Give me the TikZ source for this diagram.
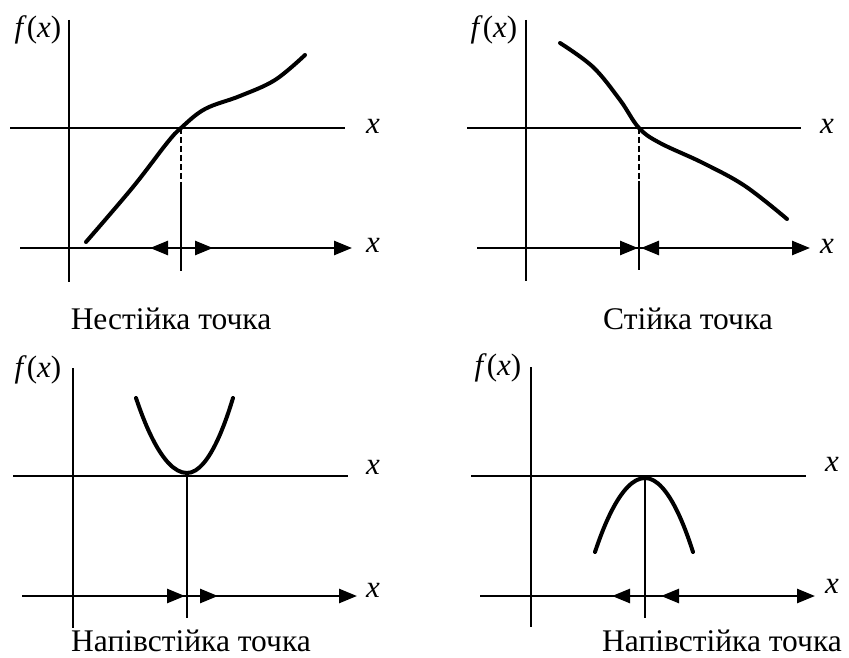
\documentclass[tikz,border=0pt]{standalone}
\usepackage{fontspec}
\setmainfont{Liberation Serif}
\usetikzlibrary{arrows.meta}

\begin{document}
\begin{tikzpicture}[x=1pt,y=-1pt,
 axis/.style={line width=2.6pt},
 curve/.style={line width=4pt,line cap=round},
 guide/.style={line width=1.3pt},
 arr/.style={-{Triangle[length=18pt,width=14pt]},line width=2.6pt},
 var/.style={font=\fontsize{31}{31}\selectfont,inner sep=0pt},
 lbl/.style={font=\fontsize{31.5}{32}\selectfont,inner sep=0pt,anchor=base}
]
\useasboundingbox (0,0) rectangle (849,658);
% unstable point
\node[var] (fy1) at (38,30) {\textit{f}(\textit{x})};
\draw[axis] (69,20) -- (69,282);
\draw[axis] (10,128) -- (345,128);
\node[var] (xa1) at (373,126) {\textit{x}};
\draw[arr] (20,248) -- (352,248);
\node[var] (xb1) at (373,245) {\textit{x}};
\coordinate (r1) at (181,128);
\coordinate (m1) at (181,188);
\draw[curve] plot[smooth,tension=0.6] coordinates {(86,242) (133,187) (167,143) (181,128) (205,109) (240,96) (275,80) (305,55)};
\draw[guide,dash pattern=on 6pt off 3pt] (r1) -- (m1);
\draw[guide] (m1) -- (181,271);
\draw[arr] (172,248) -- (150,248);
\draw[arr] (190,248) -- (213,248);
\node[lbl] (lab1) at (171,329) {Нестійка точка};
% stable point
\node[var] (fy2) at (494,30) {\textit{f}(\textit{x})};
\draw[axis] (526,20) -- (526,281);
\draw[axis] (467,128) -- (801,128);
\node[var] (xa2) at (827,126) {\textit{x}};
\draw[arr] (477,248) -- (810,248);
\node[var] (xb2) at (827,246) {\textit{x}};
\coordinate (r2) at (639,128);
\coordinate (m2) at (639,181);
\draw[curve] plot[smooth,tension=0.6] coordinates {(560,43) (593,67) (620,100) (639,128) (660,143) (703,163) (745,186) (787,219)};
\draw[guide,dash pattern=on 6pt off 3pt] (r2) -- (m2);
\draw[guide] (m2) -- (639,270);
\draw[arr] (615,248) -- (638,248);
\draw[arr] (665,248) -- (641,248);
\node[lbl] (lab2) at (688,329) {Стійка точка};
% semi-stable point, minimum
\node[var] (fy3) at (38,370) {\textit{f}(\textit{x})};
\draw[axis] (73,368) -- (73,628);
\draw[axis] (13,476) -- (348,476);
\node[var] (xa3) at (373,467) {\textit{x}};
\draw[arr] (22,596) -- (357,596);
\node[var] (xb3) at (373,590) {\textit{x}};
\coordinate (r3) at (187,476);
\draw[curve] (136,398) parabola bend (187,473) (233,398);
\draw[guide] (r3) -- (187,618);
\draw[arr] (160,596) -- (185,596);
\draw[arr] (195,596) -- (218,596);
\node[lbl] (lab3) at (191,651) {Напівстійка точка};
% semi-stable point, maximum
\node[var] (fy4) at (498,368) {\textit{f}(\textit{x})};
\draw[axis] (531,367) -- (531,627);
\draw[axis] (471,476) -- (806,476);
\node[var] (xa4) at (832,464) {\textit{x}};
\draw[arr] (480,596) -- (815,596);
\node[var] (xb4) at (832,586) {\textit{x}};
\coordinate (r4) at (645,476);
\draw[curve] (595,552) parabola bend (645,478) (693,552);
\draw[guide] (r4) -- (645,618);
\draw[arr] (635,596) -- (612,596);
\draw[arr] (685,596) -- (661,596);
\node[lbl] (lab4) at (722,651) {Напівстійка точка};
\end{tikzpicture}
\end{document}
